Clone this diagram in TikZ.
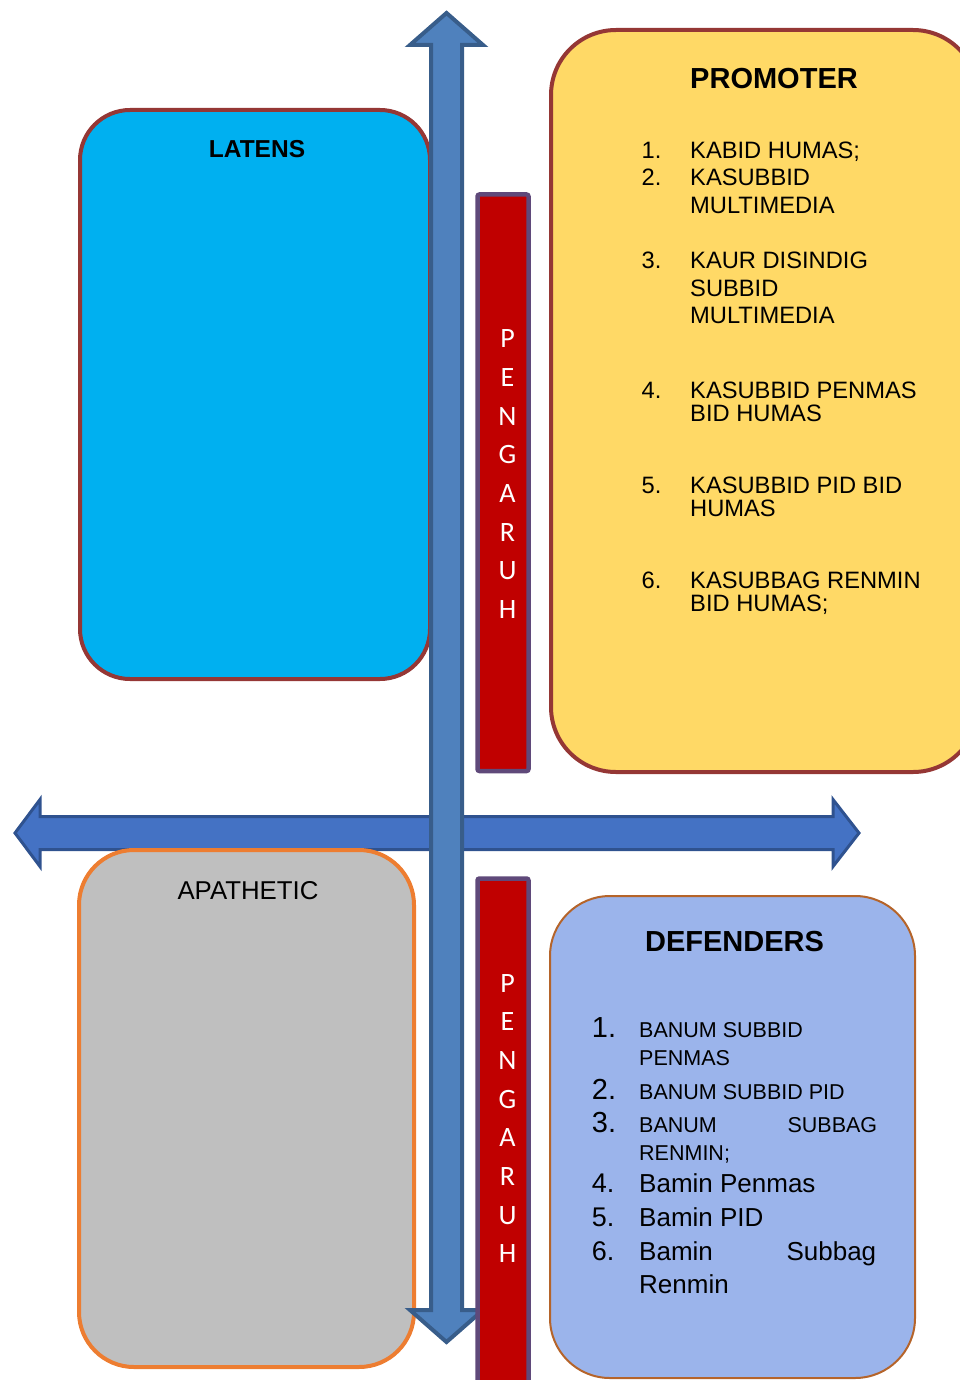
\documentclass[tikz,border=0pt]{standalone}
\usepackage{fontspec}
\setmainfont{Liberation Sans}
\newfontfamily\calibri{Carlito}
\definecolor{latensblue}{HTML}{00B0F0}
\definecolor{boxline}{HTML}{953735}
\definecolor{promoyellow}{HTML}{FFD966}
\definecolor{apathgray}{HTML}{BFBFBF}
\definecolor{apathline}{HTML}{ED7D31}
\definecolor{defblue}{HTML}{9BB4EB}
\definecolor{defline}{HTML}{B5642A}
\definecolor{barred}{HTML}{C00000}
\definecolor{barline}{HTML}{5F497A}
\definecolor{varrowfill}{HTML}{4F81BD}
\definecolor{varrowline}{HTML}{385D8A}
\definecolor{harrowfill}{HTML}{4472C4}
\definecolor{harrowline}{HTML}{2F528F}
% lines stacked under the first baseline
\newcommand{\stack}[1]{\begin{tabular}[t]{@{}l@{}}#1\end{tabular}}
\begin{document}
\begin{tikzpicture}[x=1pt, y=-1pt,
		txt/.style={inner sep=0pt, anchor=base west},
		head/.style={inner sep=0pt, anchor=base, font=\bfseries\fontsize{29}{34}\selectfont},
		bar/.style={fill=barred, draw=barline, line width=4.5pt, rounded corners=2pt},
		letter/.style={inner sep=0pt, anchor=base, text=white, font=\calibri\fontsize{28}{32}\selectfont}]
		\useasboundingbox (0,0) rectangle (960,1380);
		% horizontal double arrow
		\draw[fill=harrowfill, draw=harrowline, line width=3pt] (40,816.5) -- (40,799.5) -- (15,833) -- (40,866.5) -- (40,849.5) -- (833,849.5) -- (833,866.5) -- (859,833) -- (833,799.5) -- (833,816.5) -- cycle;
		% quadrants
		\draw[fill=latensblue, draw=boxline, line width=4pt, rounded corners=50pt] (80,110) rectangle (430,679);
		\draw[fill=promoyellow, draw=boxline, line width=4pt, rounded corners=65pt] (551,30) rectangle (978,772);
		\draw[fill=apathgray, draw=apathline, line width=4pt, rounded corners=55pt] (79,850) rectangle (414,1367);
		\draw[fill=defblue, draw=defline, line width=2pt, rounded corners=60pt] (550,896) rectangle (915,1378);
		% vertical double arrow
		\draw[fill=varrowfill, draw=varrowline, line width=4pt] (431,45) -- (410,45) -- (446.5,13) -- (483,45) -- (462,45) -- (462,1310) -- (483,1310) -- (446.5,1342) -- (410,1310) -- (431,1310) -- cycle;
		% pengaruh bars
		\draw[bar] (477.5,194.5) rectangle (528.5,771);
		\draw[bar] (477.5,878.5) rectangle (528.5,1400);
		\foreach [count=\i from 0] \c in {P,E,N,G,A,R,U,H} {
			\node[letter] (ptop\i) at (507.5,347.7+38.7*\i) {\c};
			\node[letter] (pbot\i) at (507.5,992+38.7*\i) {\c};
		}
		% headings
		\node[head] (promoter) at (774,88.3) {PROMOTER};
		\node[head, font=\bfseries\fontsize{24.5}{28}\selectfont] (latens) at (257,157.3) {LATENS};
		\node[head] (defenders) at (734.5,951.7) {DEFENDERS};
		\node[head, font=\fontsize{25.8}{30}\selectfont] (apathetic) at (248,899.3) {APATHETIC};
		% promoter list
		\begin{scope}[font=\fontsize{23.7}{27.5}\selectfont]
			\foreach \n/\y/\t in {1/158.8/{KABID HUMAS;}, 2/185.8/{KASUBBID\\MULTIMEDIA}, 3/268.8/{KAUR DISINDIG\\SUBBID\\MULTIMEDIA}} {
				\node[txt] (pn\n) at (641.5,\y) {\n.};
				\node[txt] (pt\n) at (690,\y) {\stack{\t}};
			}
		\end{scope}
		\begin{scope}[font=\fontsize{23.7}{22}\selectfont]
			\foreach \n/\y/\t in {4/398.8/{KASUBBID PENMAS\\BID HUMAS}, 5/493.5/{KASUBBID PID BID\\HUMAS}, 6/588.5/{KASUBBAG RENMIN\\BID HUMAS;}} {
				\node[txt] (pn\n) at (641.5,\y) {\n.};
				\node[txt] (pt\n) at (690,\y) {\stack{\t}};
			}
		\end{scope}
		% defenders list
		\foreach \n/\y/\s in {1/1037.3/29, 2/1099/29, 3/1132.7/29, 4/1192.7/27, 5/1226.7/27, 6/1260.7/27}
			\node[txt, font=\fontsize{\s}{30}\selectfont] (dn\n) at (591.7,\y) {\n.};
		\node[txt, font=\fontsize{21.5}{28}\selectfont] (dt1) at (639,1037.3) {\stack{BANUM SUBBID\\PENMAS}};
		\node[txt, font=\fontsize{21.5}{28}\selectfont] (dt2) at (639,1099) {BANUM SUBBID PID};
		\node[txt, font=\fontsize{21.5}{27.3}\selectfont] (dt3) at (639,1132.7) {\stack{\hbox to 238pt{BANUM\hfill SUBBAG}\\RENMIN;}};
		\node[txt, font=\fontsize{26}{32.3}\selectfont] (dt4) at (639,1192.7) {Bamin Penmas};
		\node[txt, font=\fontsize{26}{32.3}\selectfont] (dt5) at (639,1226.7) {Bamin PID};
		\node[txt, font=\fontsize{26}{32.3}\selectfont] (dt6) at (639,1260.7) {\stack{\hbox to 237pt{Bamin\hfill Subbag}\\Renmin}};
\end{tikzpicture}
\end{document}
